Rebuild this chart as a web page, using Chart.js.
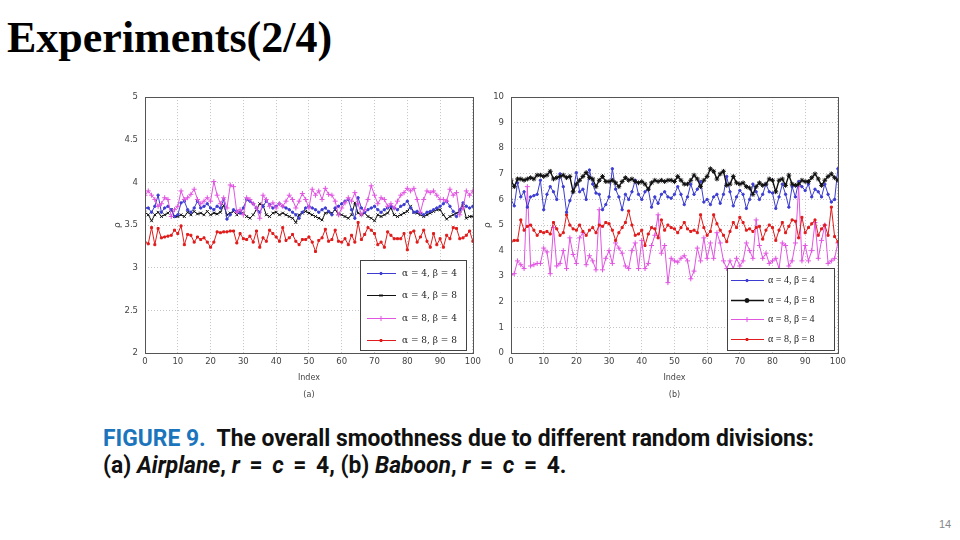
<!DOCTYPE html>
<html>
<head>
<meta charset="utf-8">
<script src="https://cdn.jsdelivr.net/npm/chart.js@4.4.1/dist/chart.umd.min.js"></script>
<style>
  html, body { margin: 0; padding: 0; background: #fff; }
  body { width: 960px; height: 540px; position: relative; overflow: hidden; }
  #title { position: absolute; left: 7px; top: 16px; font: bold 44px "Liberation Serif", "Times New Roman", serif; line-height: 1; color: #000; white-space: nowrap; }
  canvas { position: absolute; }
  #chartA { left: 110px; top: 85px; }
  #chartB { left: 480px; top: 85px; }
  #caption { position: absolute; left: 103px; top: 425px; font: bold 23px Roboto, "Liberation Sans", sans-serif; line-height: 27px; color: #111; white-space: nowrap; transform-origin: 0 0; }
  #caption .fig { color: #1b75bc; }
  #caption .eq { margin: 0 4px; }
  #page { position: absolute; left: 939px; top: 518px; font: 11px "Liberation Sans", sans-serif; color: #888; }
</style>
</head>
<body>
<div id="title">Experiments(2/4)</div>
<canvas id="chartA" width="375" height="320"></canvas>
<canvas id="chartB" width="370" height="320"></canvas>
<div id="caption"><span id="cap1"><span class="fig">FIGURE 9.</span>&nbsp; The overall smoothness due to different random divisions:</span><br><span>(a) <i>Airplane</i>, <i>r</i> <span class="eq">=</span> <i>c</i> <span class="eq">=</span> 4, (b) <i>Baboon</i>, <i>r</i> <span class="eq">=</span> <i>c</i> <span class="eq">=</span> 4.</span></div>
<div id="page">14</div>

<script>
// index 0..100 along x
const idx = Array.from({ length: 101 }, (_, i) => i);
const seriesLabels = ['α = 4, β = 4', 'α = 4, β = 8', 'α = 8, β = 4', 'α = 8, β = 8'];

// (a) Airplane
const aBlue = [3.70,3.70,3.65,3.72,3.85,3.65,3.70,3.72,3.68,3.60,
  3.62,3.76,3.78,3.68,3.65,3.70,3.78,3.70,3.72,3.75,
  3.70,3.68,3.72,3.70,3.80,3.57,3.62,3.68,3.66,3.64,
  3.70,3.80,3.78,3.75,3.70,3.65,3.72,3.78,3.74,3.70,
  3.72,3.75,3.72,3.70,3.68,3.65,3.62,3.58,3.65,3.70,
  3.72,3.70,3.68,3.65,3.68,3.70,3.66,3.62,3.70,3.72,
  3.75,3.78,3.80,3.68,3.58,3.82,3.70,3.65,3.68,3.70,
  3.72,3.68,3.65,3.68,3.70,3.72,3.70,3.68,3.72,3.74,
  3.78,3.70,3.65,3.66,3.64,3.62,3.65,3.66,3.68,3.70,
  3.72,3.75,3.78,3.72,3.66,3.60,3.68,3.76,3.72,3.70,
  3.72];
const aBlack = [3.65,3.62,3.55,3.62,3.65,3.60,3.62,3.64,3.68,3.60,
  3.60,3.62,3.60,3.65,3.62,3.66,3.63,3.64,3.62,3.66,
  3.62,3.64,3.63,3.65,3.73,3.62,3.64,3.66,3.62,3.65,
  3.64,3.60,3.58,3.62,3.68,3.75,3.73,3.62,3.60,3.64,
  3.65,3.62,3.64,3.62,3.60,3.58,3.53,3.62,3.64,3.66,
  3.64,3.62,3.60,3.58,3.56,3.64,3.65,3.64,3.68,3.63,
  3.62,3.60,3.58,3.62,3.76,3.64,3.62,3.64,3.60,3.58,
  3.55,3.62,3.60,3.62,3.64,3.70,3.62,3.60,3.62,3.64,
  3.66,3.72,3.65,3.64,3.62,3.60,3.62,3.64,3.66,3.68,
  3.68,3.62,3.57,3.60,3.62,3.64,3.66,3.73,3.58,3.60,
  3.60];
const aPink = [3.85,3.90,3.85,3.80,3.72,3.75,3.82,3.80,3.60,3.68,
  3.72,3.90,3.80,3.82,3.86,3.92,3.80,3.75,3.78,3.82,
  3.78,4.01,3.85,3.75,3.82,3.70,3.97,3.95,3.65,3.68,
  3.62,3.82,3.80,3.75,3.70,3.58,3.85,3.80,3.72,3.76,
  3.70,3.75,3.72,3.78,3.85,3.80,3.70,3.78,3.87,3.80,
  3.70,3.92,3.85,3.90,3.80,3.93,3.86,3.85,3.78,3.62,
  3.70,3.76,3.82,3.78,3.88,3.75,3.62,3.68,3.80,3.96,
  3.85,3.75,3.82,3.80,3.72,3.75,3.70,3.78,3.85,3.88,
  3.93,3.90,3.93,3.80,3.65,3.80,3.90,3.88,3.90,3.85,
  3.80,3.80,3.78,3.92,3.85,3.88,3.62,3.70,3.90,3.85,
  3.90];
const aRed = [3.30,3.28,3.47,3.27,3.46,3.35,3.36,3.37,3.38,3.44,
  3.40,3.49,3.27,3.39,3.38,3.30,3.36,3.33,3.35,3.30,
  3.24,3.30,3.42,3.41,3.42,3.42,3.43,3.43,3.29,3.40,
  3.34,3.33,3.37,3.30,3.43,3.24,3.35,3.31,3.44,3.40,
  3.36,3.31,3.47,3.32,3.35,3.39,3.31,3.27,3.33,3.33,
  3.36,3.30,3.19,3.32,3.35,3.45,3.31,3.33,3.44,3.31,
  3.30,3.34,3.27,3.38,3.30,3.53,3.33,3.39,3.47,3.44,
  3.40,3.27,3.30,3.24,3.42,3.38,3.34,3.34,3.34,3.40,
  3.21,3.41,3.43,3.30,3.36,3.44,3.31,3.24,3.40,3.27,
  3.34,3.24,3.38,3.34,3.47,3.46,3.34,3.35,3.38,3.43,
  3.31];

// (b) Baboon
const bBlue = [6.00,5.75,6.65,6.10,6.30,5.70,6.10,6.15,6.20,6.75,
  5.60,6.20,6.50,6.30,6.00,7.00,6.50,5.50,5.95,6.30,
  7.05,6.30,6.40,6.00,7.15,6.60,6.25,6.20,5.60,5.80,
  6.10,7.20,6.40,6.10,5.60,6.20,6.00,6.30,6.75,6.20,
  6.00,6.30,6.40,5.70,6.10,5.85,6.20,6.30,6.10,6.05,
  6.20,6.50,6.20,5.80,6.10,6.60,6.20,6.40,6.70,5.90,
  6.00,5.80,6.10,6.20,5.85,6.20,6.90,6.30,5.75,6.10,
  6.35,6.20,5.65,6.00,6.60,6.30,6.00,6.20,6.60,6.30,
  6.25,5.65,6.10,6.60,6.20,5.70,6.50,6.10,6.70,6.50,
  6.35,6.60,6.10,6.40,6.30,6.10,6.60,6.20,5.90,6.00,
  7.20];
const bBlack = [6.75,6.50,6.80,6.80,6.75,6.80,6.85,6.80,6.95,6.95,
  6.90,6.95,7.10,6.80,6.85,6.90,6.95,6.85,6.90,6.30,
  6.60,6.75,6.90,7.05,6.85,6.80,6.50,6.75,6.90,6.70,
  6.70,6.75,6.65,6.50,6.70,6.85,6.75,6.80,6.70,6.65,
  6.70,6.60,6.40,6.65,6.75,6.70,6.75,6.70,6.75,6.75,
  6.70,6.90,6.75,6.60,6.60,6.75,6.95,6.80,6.50,6.75,
  6.90,7.20,7.10,6.80,7.00,7.10,6.55,6.60,6.90,6.65,
  6.60,6.65,6.50,6.45,6.20,6.50,6.65,6.55,6.60,6.80,
  6.75,6.30,6.75,6.80,6.55,6.95,6.60,6.55,6.60,6.75,
  6.70,6.70,6.85,7.00,6.80,6.55,6.75,6.90,7.00,6.85,
  6.75];
const bPink = [3.05,3.10,3.60,3.45,3.30,6.50,3.40,3.45,3.50,3.50,
  4.10,3.95,3.10,4.90,3.40,3.50,4.00,3.30,4.50,3.85,
  3.50,4.50,4.70,3.45,3.80,3.60,3.25,5.60,3.25,3.70,
  4.00,3.50,4.30,4.10,3.90,3.40,3.30,4.00,4.30,3.30,
  4.40,3.30,3.50,4.20,4.60,5.40,3.90,4.20,2.75,3.70,
  3.60,3.55,3.70,3.80,3.60,2.90,3.20,4.10,3.60,4.50,
  3.70,4.30,3.70,4.70,4.30,3.60,3.30,3.60,3.30,3.70,
  3.40,3.60,4.30,4.00,3.70,5.20,4.20,3.70,3.90,3.50,
  3.60,3.70,3.30,4.30,4.20,3.40,3.60,4.30,6.50,3.60,
  4.20,3.60,4.00,5.10,3.70,4.40,5.00,3.50,3.60,3.70,
  4.30];
const bRed = [4.35,4.40,4.40,5.20,4.80,4.95,5.00,4.80,4.60,4.75,
  4.70,4.75,4.65,5.10,4.85,4.60,4.70,5.40,5.00,4.85,
  4.80,5.00,4.75,4.60,4.80,4.90,4.70,5.00,4.95,5.10,
  5.05,4.80,4.40,4.70,4.90,5.10,5.55,5.00,4.60,4.65,
  4.80,4.20,4.65,4.90,4.85,4.50,5.20,4.80,5.00,4.90,
  4.85,4.70,4.90,5.10,4.85,4.75,4.80,4.70,5.40,4.90,
  4.60,4.75,5.40,5.05,4.80,4.60,4.35,4.75,5.10,4.90,
  5.30,5.10,4.80,4.85,4.75,4.90,4.95,4.45,4.80,5.00,
  4.90,4.40,4.80,5.10,4.70,4.95,5.20,5.15,4.50,5.30,
  4.70,4.90,5.05,5.20,4.60,4.85,5.00,4.60,5.70,4.55,
  4.35];

const BLUE = '#3c3cd2', BLACK = '#111111', PINK = '#e155e1', RED = '#e01b1b';
const TICK = { family: '"DejaVu Sans", sans-serif', size: 8.5 };

// full box round the plot
const framePlugin = {
  id: 'frame',
  afterDatasetsDraw(chart) {
    const { ctx, chartArea: a } = chart;
    ctx.save();
    ctx.strokeStyle = '#555';
    ctx.lineWidth = 1;
    ctx.strokeRect(Math.round(a.left) + 0.5, Math.round(a.top) + 0.5, Math.round(a.right - a.left), Math.round(a.bottom - a.top));
    ctx.restore();
  }
};

// legend box inside the plot, lower right
const boxLegend = {
  id: 'boxLegend',
  afterDatasetsDraw(chart, args, o) {
    const { ctx, chartArea: a } = chart;
    const x = Math.round(a.right - o.right - o.width);
    const y = Math.round(a.bottom - o.bottom - o.height);
    ctx.save();
    ctx.fillStyle = '#fff';
    ctx.fillRect(x, y, o.width, o.height);
    ctx.strokeStyle = '#444';
    ctx.lineWidth = 1;
    ctx.strokeRect(x + 0.5, y + 0.5, o.width, o.height);
    chart.data.datasets.forEach((ds, i) => {
      const cy = Math.round(y + o.first + i * o.step) + 0.5;
      ctx.strokeStyle = ds.borderColor;
      ctx.lineWidth = ds.borderWidth;
      ctx.beginPath();
      ctx.moveTo(x + o.lineX0, cy);
      ctx.lineTo(x + o.lineX1, cy);
      ctx.stroke();
      ctx.fillStyle = ds.borderColor;
      Chart.helpers.drawPoint(ctx, { pointStyle: ds.pointStyle, radius: ds.pointRadius, rotation: 0, borderWidth: 1 }, x + o.markX, cy);
      ctx.fillStyle = '#222';
      ctx.font = o.font;
      ctx.textBaseline = 'middle';
      ctx.fillText(ds.label, x + o.textX, cy);
    });
    ctx.restore();
  }
};

function makeChart(id, series, cfg) {
  return new Chart(document.getElementById(id), {
    type: 'line',
    data: {
      datasets: series.map((s, i) => ({
        label: seriesLabels[i],
        data: s.values.map((v, j) => ({ x: idx[j], y: v })),
        borderColor: s.color,
        backgroundColor: s.color,
        borderWidth: s.width,
        pointStyle: s.point,
        pointRadius: s.radius,
        pointBorderWidth: 1,
        tension: 0,
        order: s.order
      }))
    },
    options: {
      responsive: false,
      animation: false,
      layout: { padding: { top: 10, right: cfg.padRight, left: 0, bottom: 0 } },
      plugins: {
        legend: { display: false },
        tooltip: { enabled: false },
        boxLegend: cfg.legend
      },
      scales: {
        x: {
          type: 'linear', min: 0, max: 100,
          ticks: { stepSize: 10, color: '#444', font: TICK, padding: 4 },
          grid: { color: '#c4c4c4', drawTicks: false },
          border: { display: false, dash: [1, 2] },
          title: { display: true, text: ['Index', cfg.tag], color: '#444', font: { family: TICK.family, size: 8, lineHeight: 2.1 }, padding: { top: 0, bottom: 1.6 } },
          afterFit(s) { s.height = 52; }
        },
        y: {
          min: cfg.yMin, max: cfg.yMax,
          ticks: { stepSize: cfg.yStep, color: '#444', font: TICK, padding: 7, callback: v => String(v) },
          grid: { color: '#c4c4c4', drawTicks: false },
          border: { display: false, dash: [1, 2] },
          title: { display: true, text: 'ρ', color: '#444', font: { family: TICK.family, size: 9 }, padding: { top: 2, bottom: 0 } },
          afterFit(s) { s.width = cfg.yWidth; }
        }
      }
    },
    plugins: [framePlugin, boxLegend]
  });
}

makeChart('chartA', [
  { values: aBlue, color: BLUE, width: 1, point: 'circle', radius: 1.2, order: 2 },
  { values: aBlack, color: BLACK, width: 1, point: 'crossRot', radius: 2, order: 3 },
  { values: aPink, color: PINK, width: 1, point: 'cross', radius: 2.5, order: 1 },
  { values: aRed, color: RED, width: 1, point: 'rect', radius: 1.4, order: 4 }
], {
  yMin: 2, yMax: 5, yStep: 0.5, yWidth: 35, padRight: 9, tag: '(a)',
  legend: { width: 106, height: 90, right: 7, bottom: 3, first: 13, step: 22.3,
    lineX0: 7, lineX1: 36, markX: 21, textX: 42, font: '9px "DejaVu Serif", serif' }
});

makeChart('chartB', [
  { values: bBlue, color: BLUE, width: 1, point: 'circle', radius: 1.2, order: 2 },
  { values: bBlack, color: BLACK, width: 1.4, point: 'star', radius: 2.4, order: 1 },
  { values: bPink, color: PINK, width: 1, point: 'cross', radius: 2.5, order: 4 },
  { values: bRed, color: RED, width: 1, point: 'rect', radius: 1.4, order: 3 }
], {
  yMin: 0, yMax: 10, yStep: 1, yWidth: 31, padRight: 8, tag: '(b)',
  legend: { width: 107, height: 82, right: 4, bottom: 3, first: 12, step: 19.5,
    lineX0: 4, lineX1: 37, markX: 20, textX: 41, font: '10px "Liberation Serif", serif' }
});

// squeeze the caption to the width of the condensed original
const cap = document.getElementById('caption');
const w = document.getElementById('cap1').getBoundingClientRect().width;
cap.style.transform = 'scaleX(' + (711 / w).toFixed(3) + ')';
</script>
</body>
</html>
